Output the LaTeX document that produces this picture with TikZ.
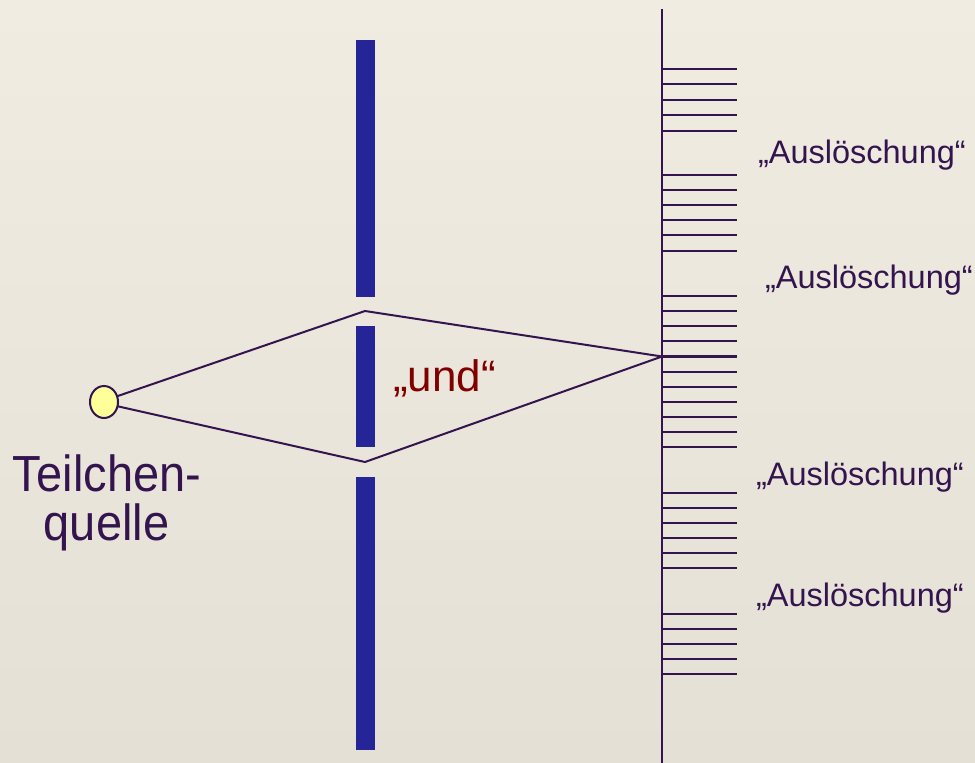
\documentclass[tikz,border=0pt]{standalone}
\usepackage{fontspec}
\setmainfont{Liberation Sans}
\usetikzlibrary{shapes.geometric}
\definecolor{bgtop}{RGB}{240,236,226}
\definecolor{bgbot}{RGB}{229,224,213}
\definecolor{ink}{RGB}{52,20,78}
\definecolor{barblue}{RGB}{37,37,152}
\definecolor{undred}{RGB}{128,0,0}
\definecolor{srcfill}{RGB}{255,255,153}
\tikzset{
  bar/.style={fill=barblue, draw=none},
  ray/.style={draw=ink, line width=2pt},
  tick/.style={draw=ink, line width=2.2pt},
  screenline/.style={draw=ink, line width=2.6pt},
  lbl/.style={inner sep=0pt, outer sep=0pt, text=ink, font=\fontsize{32.5}{40}\selectfont, anchor=base west},
  big/.style={inner sep=0pt, outer sep=0pt, text=ink, font=\fontsize{47}{56}\selectfont, anchor=base},
  srcnode/.style={ellipse, draw=ink, line width=2pt, fill=srcfill, minimum width=28pt, minimum height=32pt, inner sep=0pt},
}
\begin{document}
\begin{tikzpicture}[x=1pt,y=-1pt]
\useasboundingbox (0,0) rectangle (975,763);
\fill[top color=bgtop, bottom color=bgbot] (0,0) rectangle (975,763);
% barrier
\fill[bar] (356,40) rectangle (375,297);
\fill[bar] (356,326) rectangle (375,447);
\fill[bar] (356,477) rectangle (375,750);
% screen
\coordinate (scrtop) at (662,9);
\coordinate (scrbot) at (662,763);
\draw[screenline] (scrtop) -- (scrbot);
\foreach \y in {69.3,84.3,99.7,114.7,131.3,175,190,205,220,235,250.7,296,311,326,341,356.5,371.7,386.7,402,417,432,447,492.7,507.7,522.7,538,553,568,613.7,628.7,643.7,658.7,673.7}{
  \draw[tick] (662,\y) -- (737,\y);
}
% source and paths
\coordinate (top) at (365,311);
\coordinate (bot) at (365,462);
\coordinate (hit) at (662,356.5);
\draw[ray] (112,398) -- (top) -- (hit);
\draw[ray] (112,405) -- (bot) -- (hit);
\node[srcnode] (src) at (104,402) {};
% labels
\node[big] (t1) at (107,491.7) {\scalebox{1}[1.08]{Teilchen-}};
\node[big] (t2) at (106.5,540) {\scalebox{1}[1.08]{quelle}};
\node[inner sep=0pt, text=undred, font=\fontsize{44}{52}\selectfont, anchor=base west] (und) at (393,391.7) {„und“};
\node[lbl] (a1) at (758,163.3) {„Auslöschung“};
\node[lbl] (a2) at (765,288.3) {„Auslöschung“};
\node[lbl] (a3) at (756,485) {„Auslöschung“};
\node[lbl] (a4) at (756,606.7) {„Auslöschung“};
\end{tikzpicture}
\end{document}
